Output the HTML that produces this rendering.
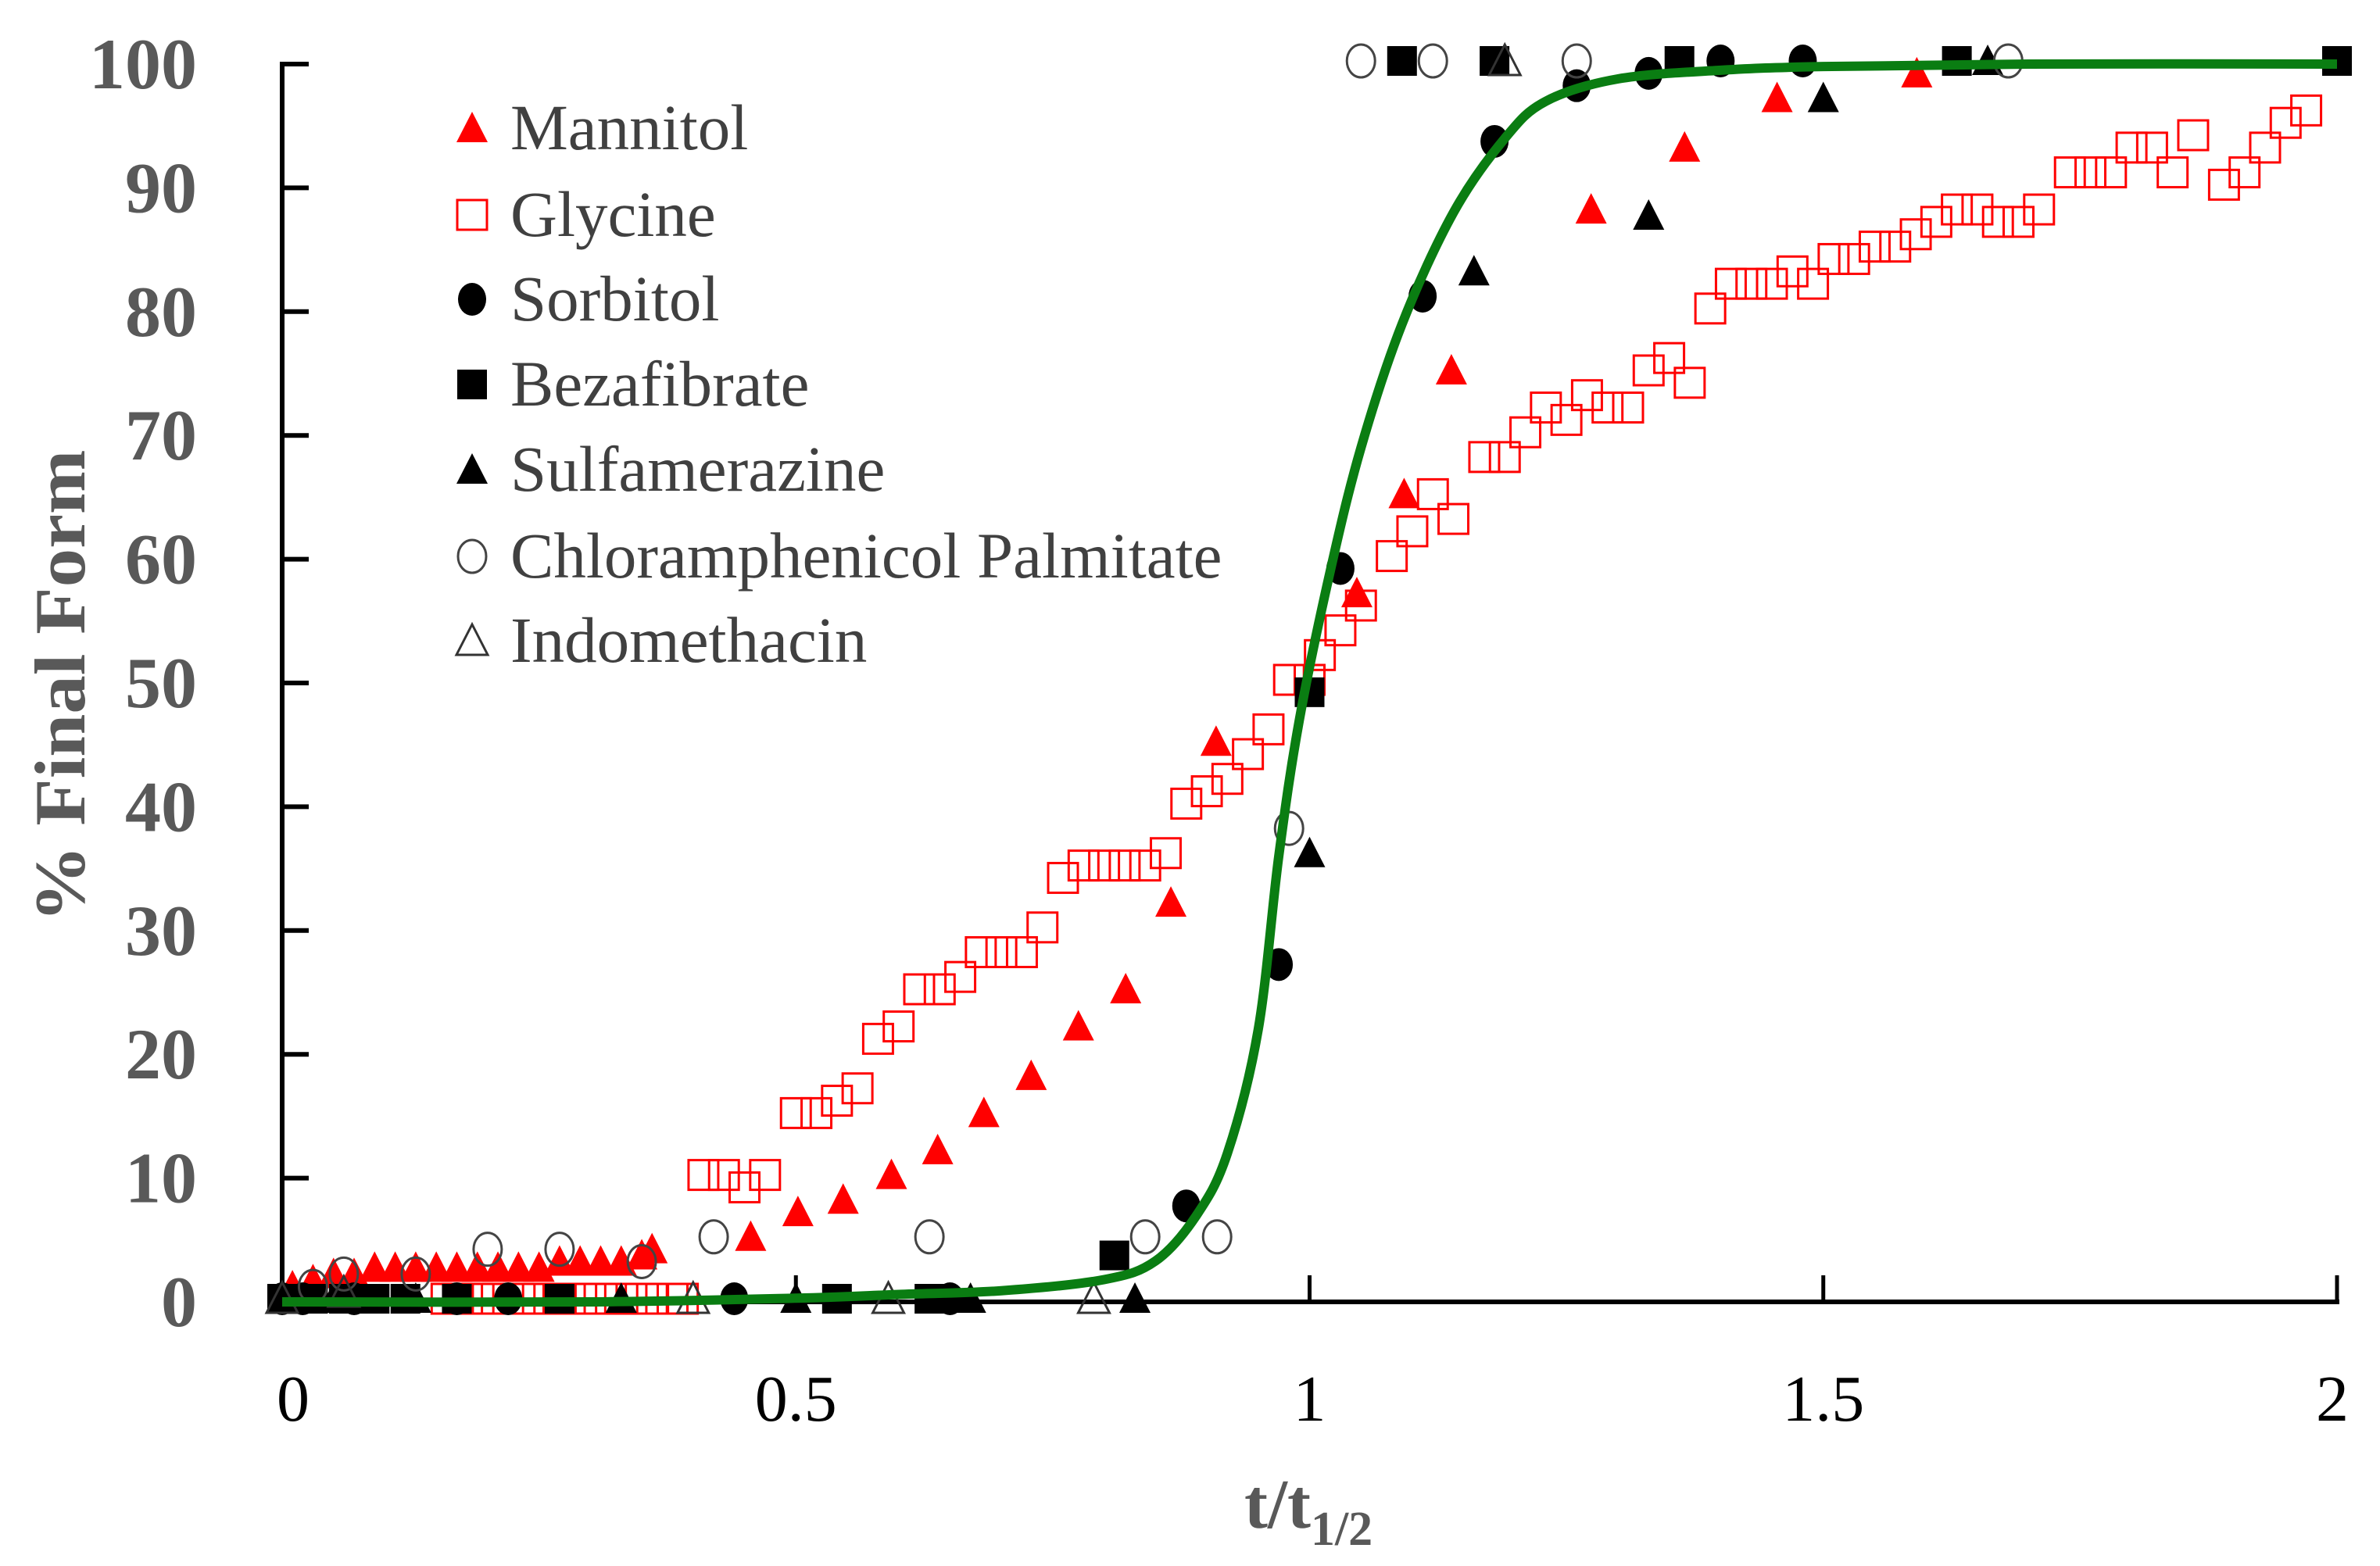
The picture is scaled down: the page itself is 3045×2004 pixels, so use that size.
<!DOCTYPE html>
<html><head><meta charset="utf-8"><style>
html,body{margin:0;padding:0;background:#fff;}
svg{display:block;}
</style></head><body>
<svg id="chart" xmlns="http://www.w3.org/2000/svg" width="3045" height="2004" viewBox="0 0 3045 2004">
<g id="axes"></g>
<g id="marks"></g>
<g id="legend"></g>
</svg>
<script>
// ---- data ----
const xTicks = [0, 0.5, 1, 1.5, 2];
const xTickLabels = ["0", "0.5", "1", "1.5", "2"];
const yTicks = [0, 10, 20, 30, 40, 50, 60, 70, 80, 90, 100];
const yTickLabels = ["0", "10", "20", "30", "40", "50", "60", "70", "80", "90", "100"];

const mannitolX = [0.01,0.03,0.05,0.07,0.09,0.11,0.13,0.15,0.17,0.19,0.21,0.23,0.25,0.27,0.29,0.31,0.33,0.35,0.36,0.456,0.502,0.546,0.593,0.638,0.683,0.729,0.775,0.821,0.865,0.909,1.046,1.092,1.138,1.274,1.365,1.455,1.591];
const mannitolY = [1,1.5,2,2,2.5,2.5,2.5,2.5,2.5,2.5,2.5,2.5,2.5,3,3,3,3,3.5,4,5,7,8,10,12,15,18,22,25,32,45,57,65,75,88,93,97,99];

const glycineX = [0.16,0.18,0.2,0.22,0.24,0.26,0.28,0.3,0.32,0.34,0.36,0.38,0.39,0.41,0.43,0.45,0.47,0.5,0.52,0.54,0.56,0.58,0.6,0.62,0.64,0.66,0.68,0.7,0.72,0.74,0.76,0.78,0.8,0.82,0.84,0.86,0.88,0.9,0.92,0.94,0.96,0.98,1.0,1.01,1.03,1.05,1.08,1.1,1.12,1.14,1.17,1.19,1.21,1.23,1.25,1.27,1.29,1.31,1.33,1.35,1.37,1.39,1.41,1.43,1.45,1.47,1.49,1.51,1.53,1.55,1.57,1.59,1.61,1.63,1.65,1.67,1.69,1.71,1.74,1.76,1.78,1.8,1.82,1.84,1.86,1.89,1.91,1.93,1.95,1.97];
const glycineY = [0,0,0,0,0,0,0,0,0,0,0,0,0,10,10,9,10,15,15,16,17,21,22,25,25,26,28,28,28,30,34,35,35,35,35,36,40,41,42,44,46,50,50,52,54,56,60,62,65,63,68,68,70,72,71,73,72,72,75,76,74,80,82,82,82,83,82,84,84,85,85,86,87,88,88,87,87,88,91,91,91,93,93,91,94,90,91,93,95,96];

const sorbitolX = [0,0.02,0.07,0.17,0.22,0.44,0.65,0.88,0.97,1.03,1.11,1.18,1.26,1.33,1.4,1.48];
const sorbitolY = [0,0,0,0,0,0,0,7.5,27,59,81,93.5,98,99,100,100];

const bezafibrateX = [0,0.03,0.06,0.09,0.12,0.17,0.27,0.54,0.63,0.81,1.0,1.09,1.18,1.36,1.63,2.0];
const bezafibrateY = [0,0,0,0,0,0,0,0,0,3.5,49,100,100,100,100,100];

const sulfamerazineX = [0,0.05,0.13,0.33,0.5,0.67,0.83,1.0,1.16,1.33,1.5,1.66];
const sulfamerazineY = [0,0,0,0,0,0,0,36,83,87.5,97,100];

const chloramphenicolX = [0.03,0.06,0.13,0.2,0.27,0.35,0.42,0.63,0.84,0.91,0.98,1.05,1.12,1.26,1.68];
const chloramphenicolY = [1,2,2,4,4,3,5,5,5,5,38,100,100,100,100];

const indomethacinX = [0,0.06,0.4,0.59,0.79,1.19];
const indomethacinY = [0,0.5,0,0,0,100];

const fitX = [0,0.3,0.5,0.6,0.7,0.8,0.85,0.89,0.92,0.95,0.97,0.99,1.02,1.05,1.09,1.14,1.19,1.23,1.3,1.4,1.5,1.7,2.0];
const fitY = [0,0,0.3,0.6,0.9,1.8,3.3,7,12,22,36,47,59,69,79,88,94,97,98.8,99.5,99.8,100,100];

// ---- scales ----
const X0 = 361, X1 = 2990, Y0 = 1666, Y1 = 82;
const sx = v => X0 + (v - 0) / 2 * (X1 - X0);
const sy = v => Y0 - v / 100 * (Y0 - Y1);
const NS = "http://www.w3.org/2000/svg";
function mk(tag, attrs, parent) {
  const e = document.createElementNS(NS, tag);
  for (const k in attrs) e.setAttribute(k, attrs[k]);
  parent.appendChild(e);
  return e;
}
const axes = document.getElementById('axes');
const marks = document.getElementById('marks');
const legend = document.getElementById('legend');
const gray = "#595959";

let yl = mk('line', {x1: X0, y1: Y1 - 3, x2: X0, y2: Y0 + 3, stroke: '#000', 'stroke-width': 6}, axes);


let xl = mk('line', {x1: X0 - 3, y1: Y0, x2: X1 + 3, y2: Y0, stroke: '#000', 'stroke-width': 6}, axes);



yTicks.forEach((v, i) => {
  const t = mk('line', {x1: X0, y1: sy(v), x2: X0 + 34, y2: sy(v), stroke: '#000', 'stroke-width': 6}, axes);
  
  
  const l = mk('text', {x: 252, y: sy(v) + 31, 'text-anchor': 'end', 'font-family': '"Liberation Serif", serif', 'font-weight': 'bold', 'font-size': 92, fill: gray}, axes);
  l.textContent = yTickLabels[i];
  
  
});
xTicks.forEach((v, i) => {
  if (v > 0) {
    const t = mk('line', {x1: sx(v), y1: Y0, x2: sx(v), y2: Y0 - 34, stroke: '#000', 'stroke-width': 5}, axes);
    
    
  }
  const l = mk('text', {x: sx(v) + (v === 0 ? 14 : (v === 2 ? -6 : 0)), y: 1818, 'text-anchor': 'middle', 'font-family': '"Liberation Serif", serif', 'font-size': 84, fill: '#000'}, axes);
  l.textContent = xTickLabels[i];
  
  
});
const xt = mk('text', {x: 1592, y: 1955, 'font-family': '"Liberation Serif", serif', 'font-weight': 'bold', 'font-size': 90, fill: gray}, axes);


xt.appendChild(document.createTextNode('t/t'));
const sub = mk('tspan', {'font-size': 62, dy: 22}, xt);
sub.textContent = '1/2';
const ytt = mk('text', {x: 0, y: 0, transform: 'translate(108,878) rotate(-90)', 'text-anchor': 'middle', 'font-family': '"Liberation Serif", serif', 'font-weight': 'bold', 'font-size': 92, fill: gray, textLength: 605, lengthAdjust: 'spacingAndGlyphs'}, axes);
ytt.textContent = '% Final Form';



function marker(type, cx, cy, parent, name) {
  let e;
  const s = 19;
  if (type === 'tri-red' || type === 'tri-black' || type === 'tri-open') {
    const fill = type === 'tri-red' ? '#ff0000' : (type === 'tri-black' ? '#000' : 'none');
    const stroke = type === 'tri-open' ? '#333' : 'none';
    e = mk('polygon', {points: `${cx},${cy - 21} ${cx - 20},${cy + 18} ${cx + 20},${cy + 18}`, fill: fill, stroke: stroke, 'stroke-width': 3}, parent);
  } else if (type === 'sq-open') {
    e = mk('rect', {x: cx - s, y: cy - s, width: 2 * s, height: 2 * s, fill: 'none', stroke: '#ff0000', 'stroke-width': 3}, parent);
  } else if (type === 'sq-black') {
    e = mk('rect', {x: cx - s, y: cy - s, width: 2 * s, height: 2 * s, fill: '#000'}, parent);
  } else if (type === 'circ-black') {
    e = mk('ellipse', {cx: cx, cy: cy, rx: 18, ry: 21, fill: '#000'}, parent);
  } else {
    e = mk('ellipse', {cx: cx, cy: cy, rx: 18, ry: 21, fill: 'none', stroke: '#444', 'stroke-width': 3}, parent);
  }
  
  
  return e;
}
const series = [
  {name: 'Mannitol', xs: mannitolX, ys: mannitolY, type: 'tri-red', key: 'mannitol'},
  {name: 'Glycine', xs: glycineX, ys: glycineY, type: 'sq-open', key: 'glycine'},
  {name: 'Sorbitol', xs: sorbitolX, ys: sorbitolY, type: 'circ-black', key: 'sorbitol'},
  {name: 'Bezafibrate', xs: bezafibrateX, ys: bezafibrateY, type: 'sq-black', key: 'bezafibrate'},
  {name: 'Sulfamerazine', xs: sulfamerazineX, ys: sulfamerazineY, type: 'tri-black', key: 'sulfamerazine'},
  {name: 'Chloramphenicol Palmitate', xs: chloramphenicolX, ys: chloramphenicolY, type: 'circ-open', key: 'chloramphenicol-palmitate'},
  {name: 'Indomethacin', xs: indomethacinX, ys: indomethacinY, type: 'tri-open', key: 'indomethacin'}
];
series.forEach(s => {
  const g = mk('g', {}, marks);
  
  
  s.xs.forEach((x, i) => {
    marker(s.type, sx(x), sy(s.ys[i]) - 4, g, s.key + '-point');
  });
});
const pts = fitX.map((x, i) => [sx(x), sy(fitY[i])]);
let d = `M${pts[0][0]},${pts[0][1]}`;
for (let i = 0; i < pts.length - 1; i++) {
  const p0 = pts[Math.max(0, i - 1)], p1 = pts[i], p2 = pts[i + 1], p3 = pts[Math.min(pts.length - 1, i + 2)];
  const c1 = [p1[0] + (p2[0] - p0[0]) / 6, p1[1] + (p2[1] - p0[1]) / 6];
  const c2 = [p2[0] - (p3[0] - p1[0]) / 6, p2[1] - (p3[1] - p1[1]) / 6];
  d += ` C${c1[0]},${c1[1]} ${c2[0]},${c2[1]} ${p2[0]},${p2[1]}`;
}
const curve = mk('path', {d: d, fill: 'none', stroke: '#0a7d12', 'stroke-width': 12, 'stroke-linejoin': 'round'}, marks);



const legY = [164, 275, 383, 492, 601, 712, 820];
series.forEach((s, i) => {
  const g = mk('g', {}, legend);
  
  
  marker(s.type, 604, legY[i], g, 'legend-marker');
  const t = mk('text', {x: 653, y: legY[i] + 27, 'font-family': '"Liberation Serif", serif', 'font-size': 83, fill: '#404040'}, g);
  t.textContent = s.name;
  
  
});
</script>
</body></html>
